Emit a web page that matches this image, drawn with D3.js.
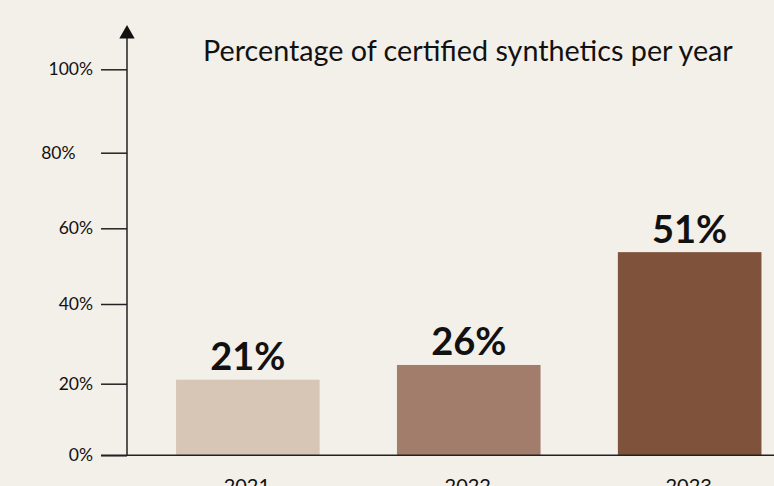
<!DOCTYPE html>
<html>
<head>
<meta charset="utf-8">
<script src="https://cdn.jsdelivr.net/npm/d3@7"></script>
<style>
  html, body { margin: 0; padding: 0; background: #f3efe9; overflow: hidden; }
  svg { display: block; }
  text { font-family: Lato, "Noto Sans", sans-serif; fill: #111; }
</style>
</head>
<body>
<svg id="chart" width="774" height="486"></svg>
<script>
// ---- data ----
const years = ["2021", "2022", "2023"];
const barValues = [21, 24.7, 53.7];          // bar heights
const shownPct = [21, 26, 51];               // values printed above the bars
const barColors = ["#d7c6b6", "#a37d6b", "#7e523b"];
const yTicks = [0, 20, 40, 60, 80, 100];
const yTickLabels = ["0%", "20%", "40%", "60%", "80%\u2002\u2002", "100%"];
const titleText = "Percentage of certified synthetics per year";

const svg = d3.select("#chart");
const W = 774, H = 486;
svg.append("rect").attr("width", W).attr("height", H).attr("fill", "#f3efe9");

const axisX = 127, baseY = 455.3;

// y scale (drawn axis has slightly uneven tick spacing)
const y = d3.scaleLinear()
  .domain(yTicks)
  .range([455.3, 383.7, 304, 228.3, 152.7, 69.3]);

const x = d3.scaleBand()
  .domain(years)
  .range([axisX, 810.5])
  .paddingInner(0.35)
  .paddingOuter(0.222);

// bars
svg.append("g").selectAll("rect")
  .data(years)
  .join("rect")
  .attr("x", d => x(d))
  .attr("width", x.bandwidth())
  .attr("y", (d, i) => y(barValues[i]))
  .attr("height", (d, i) => baseY - y(barValues[i]))
  .attr("fill", (d, i) => barColors[i]);

// value labels
svg.append("g").selectAll("text")
  .data(years)
  .join("text")
  .attr("x", d => x(d) + x.bandwidth() / 2)
  .attr("y", (d, i) => y(barValues[i]) - 9.5)
  .attr("text-anchor", "middle")
  .attr("font-size", 38)
  .attr("font-weight", "bold")
  .text((d, i) => shownPct[i] + "%");

// year labels (partially cut at bottom)
svg.append("g").selectAll("text")
  .data(years)
  .join("text")
  .attr("x", d => x(d) + x.bandwidth() / 2 - 1)
  .attr("y", 493)
  .attr("text-anchor", "middle")
  .attr("font-size", 20)
  .text(d => d);

// x axis line
svg.append("line")
  .attr("x1", 101).attr("x2", W)
  .attr("y1", baseY).attr("y2", baseY)
  .attr("stroke", "#222").attr("stroke-width", 1.5);

// y axis via d3.axisLeft
const yAxis = d3.axisLeft(y)
  .tickValues(yTicks)
  .tickSize(26)
  .tickPadding(8)
  .tickFormat((d, i) => yTickLabels[i]);

const gy = svg.append("g")
  .attr("transform", `translate(${axisX},0)`)
  .call(yAxis);
gy.select(".domain").remove();
gy.selectAll(".tick line").attr("stroke", "#222").attr("stroke-width", 1.5);
gy.selectAll(".tick text")
  .attr("font-size", 17.5)
  .attr("font-family", "Lato, 'Noto Sans', sans-serif")
  .attr("fill", "#111")
  .style("white-space", "pre");

// vertical axis line + arrow
svg.append("line")
  .attr("x1", axisX).attr("x2", axisX)
  .attr("y1", baseY).attr("y2", 37)
  .attr("stroke", "#222").attr("stroke-width", 1.5);
svg.append("path")
  .attr("d", d3.line()([[axisX, 25], [axisX + 7.7, 38.5], [axisX - 7.7, 38.5]]) + "Z")
  .attr("fill", "#111");

// title
const title = svg.append("text")
  .attr("x", 203)
  .attr("y", 61)
  .attr("font-size", 28)
  .text(titleText);
const tw = title.node().getComputedTextLength();
title.attr("font-size", 28 * 530 / tw);
</script>
</body>
</html>
